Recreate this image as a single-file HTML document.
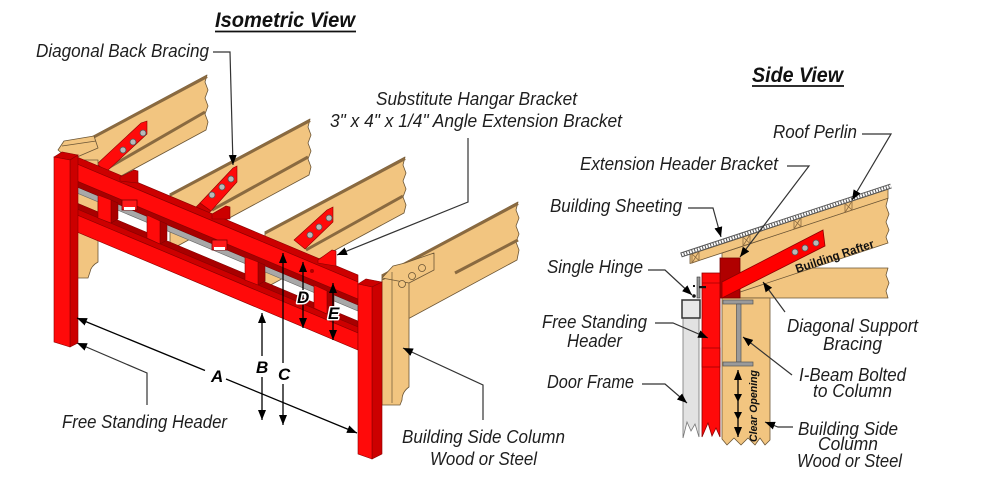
<!DOCTYPE html>
<html>
<head>
<meta charset="utf-8">
<style>
html,body{margin:0;padding:0;background:#fff;}
svg{display:block;}
.t{font-family:"Liberation Sans Narrow","Liberation Sans",sans-serif;font-style:italic;font-size:18px;fill:#1e1e1e;}
.h{font-family:"Liberation Sans",sans-serif;font-style:italic;font-weight:bold;font-size:21px;fill:#111;}
.d{font-family:"Liberation Sans",sans-serif;font-style:italic;font-weight:bold;font-size:17px;fill:#000;}
.dh{paint-order:stroke;stroke:#fff;stroke-width:3px;stroke-linejoin:round;}
.ld{fill:none;stroke:#333;stroke-width:1.2;}
.dm{fill:none;stroke:#000;stroke-width:1.3;}
.w{fill:#f2c580;stroke:#6b5535;stroke-width:0.8;stroke-linejoin:round;}
.wt{fill:none;stroke:#8a6a40;stroke-width:3;}
.r{fill:#ff0a0a;stroke:#8c0000;stroke-width:0.6;}
.rd{fill:#cc0000;stroke:#8c0000;stroke-width:0.6;}
.rx{fill:#a80000;stroke:#7a0000;stroke-width:0.5;}
.bolt{fill:#b8b8b8;stroke:#555;stroke-width:0.8;}
</style>
</head>
<body>
<svg width="990" height="490" viewBox="0 0 990 490" xmlns="http://www.w3.org/2000/svg">
<defs>
<marker id="ah" viewBox="0 0 10 8" refX="10" refY="4" markerWidth="10" markerHeight="8" markerUnits="userSpaceOnUse" orient="auto-start-reverse">
<path d="M0,0 L10,4 L0,8 z" fill="#000"/>
</marker>
</defs>

<!-- ================= ISOMETRIC VIEW ================= -->
<text class="h" x="215" y="27" textLength="140" lengthAdjust="spacingAndGlyphs">Isometric View</text>
<line x1="215" y1="31.5" x2="356" y2="31.5" stroke="#111" stroke-width="1.8"/>

<!-- Rafters -->
<polygon class="w" points="60,154 207,75 205,82 208,90 205,98 208,106 205,114 208,122 206,130 60,209"/>
<line class="wt" x1="60" y1="155" x2="207" y2="76.5"/>
<line class="wt" x1="205" y1="112" x2="108" y2="168"/>
<polygon class="w" points="170,194 310,119 308,127 311,135 308,143 311,151 308,159 311,167 309,175 170,250"/>
<line class="wt" x1="170" y1="195" x2="310" y2="120.5"/>
<line class="wt" x1="308" y1="157" x2="212" y2="210"/>
<polygon class="w" points="265,232 405,157 403,165 406,173 403,181 406,189 403,197 406,205 404,213 265,288"/>
<line class="wt" x1="265" y1="233" x2="405" y2="158.5"/>
<line class="wt" x1="403" y1="196" x2="306" y2="250"/>

<!-- small block top-left -->
<polygon class="w" points="58,150 64,141 94,136 98,148 70,160"/>
<line x1="62" y1="146" x2="96" y2="141" stroke="#6b5535" stroke-width="0.7"/>

<!-- Diagonal braces -->
<polygon class="r" points="97,164 141,123 147,121 147,134 106,172"/>
<polygon class="rd" points="97,164 106,172 101,175 94,167"/>
<circle class="bolt" cx="123" cy="150" r="3"/>
<circle class="bolt" cx="133" cy="142" r="3"/>
<circle class="bolt" cx="143" cy="133" r="3"/>
<polygon class="r" points="200,203 233,168 237,166 237,182 211,211"/>
<polygon class="rd" points="200,203 211,211 206,215 196,207"/>
<circle class="bolt" cx="212" cy="195" r="3"/>
<circle class="bolt" cx="222" cy="187" r="3"/>
<circle class="bolt" cx="231" cy="179" r="3"/>
<polygon class="r" points="294,240 327,210 333,207 333,222 305,249"/>
<circle class="bolt" cx="310" cy="235" r="3"/>
<circle class="bolt" cx="319" cy="227" r="3"/>
<circle class="bolt" cx="329" cy="218" r="3"/>

<!-- left wood column -->
<path class="w" d="M77,160 L98,160 L98,262 Q91,266 90,272 L88,278 L77,278 Z"/>

<!-- Header -->
<polygon fill="#a8a8a8" stroke="#666" stroke-width="0.6" points="77,187 358,305 358,311 77,193"/>
<polygon class="rx" points="77,203 358,321 358,327 77,209"/>
<polygon class="rx" points="77,181 358,299 358,305 77,187"/>
<polygon class="rd" points="77,157 358,275 358,282 77,164"/>
<polygon class="r" points="77,164 358,282 358,299 77,181"/>
<polygon class="rd" points="77,209 358,327 358,333 77,215"/>
<polygon class="r" points="77,215 358,333 358,350 77,232"/>

<!-- studs -->
<polygon class="rx" points="111,200 118,203 118,219 111,223"/>
<polygon class="r" points="98,195 111,200 111,223 98,218"/>
<polygon class="rx" points="160,221 167,224 167,240 160,244"/>
<polygon class="r" points="147,215 160,221 160,244 147,238"/>
<polygon class="rx" points="258,262 265,265 265,281 258,285"/>
<polygon class="r" points="245,257 258,262 258,285 245,280"/>
<polygon class="rx" points="327,291 334,294 334,310 327,314"/>
<polygon class="r" points="314,285 327,291 327,314 314,308"/>

<!-- hanging plates -->
<rect x="122" y="200" width="15" height="10" fill="#ff1a1a" stroke="#700" stroke-width="0.8"/>
<rect x="124" y="207" width="11" height="3" fill="#fff"/>
<rect x="212" y="240" width="15" height="10" fill="#ff1a1a" stroke="#700" stroke-width="0.8"/>
<rect x="214" y="247" width="11" height="3" fill="#fff"/>

<!-- brackets on top -->
<polygon class="rd" points="120,177 134,170 138,171 138,183 120,181"/>
<polygon class="rd" points="212,214 226,206 230,207 230,219 212,219"/>
<polygon class="r" points="318,260 332,250 336,251 336,266 318,263"/>
<circle cx="312" cy="271" r="2" fill="#b00000"/>

<!-- left post -->
<polygon class="rd" points="54,157 62,152 78,155 70,160"/>
<polygon class="rd" points="70,160 78,155 78,343 70,347"/>
<polygon class="r" points="54,157 70,160 70,347 54,342"/>

<!-- Rafter 4 + right column -->
<polygon class="w" points="382,275 518,202 516,210 519,218 516,226 519,234 516,242 519,250 517,260 382,333"/>
<line class="wt" x1="382" y1="276" x2="518" y2="203.5"/>
<line class="wt" x1="518" y1="240" x2="455" y2="273"/>
<path class="w" d="M382,280 L409,268 L409,387 Q402,392 402,400 L400,405 L382,405 Z"/>
<polygon class="w" points="382,278 393,266 405,263 434,253 434,270 409,283"/>
<line x1="392" y1="272" x2="392" y2="403" stroke="#6b5535" stroke-width="0.7"/>
<circle class="w" cx="402" cy="284" r="3.5"/>
<circle class="w" cx="412" cy="276" r="3.5"/>
<circle class="w" cx="422" cy="268" r="3.5"/>

<!-- right post -->
<polygon class="rd" points="358,284 366,279 382,282 372,287"/>
<polygon class="rd" points="372,287 382,282 382,454 372,459"/>
<polygon class="r" points="358,284 372,287 372,459 358,454"/>

<!-- Dimension lines -->
<line class="dm" x1="77" y1="318" x2="205" y2="370.5" marker-start="url(#ah)"/>
<line class="dm" x1="226" y1="379" x2="357" y2="433" marker-end="url(#ah)"/>
<text class="d" x="211" y="382">A</text>
<line class="dm" x1="262" y1="313" x2="262" y2="356" marker-start="url(#ah)"/>
<line class="dm" x1="262" y1="377" x2="262" y2="420" marker-end="url(#ah)"/>
<text class="d" x="256" y="373">B</text>
<line class="dm" x1="283" y1="253" x2="283" y2="363" marker-start="url(#ah)"/>
<line class="dm" x1="283" y1="384" x2="283" y2="425" marker-end="url(#ah)"/>
<text class="d" x="278" y="380">C</text>
<line class="dm" x1="303" y1="262" x2="303" y2="328" marker-start="url(#ah)" marker-end="url(#ah)"/>
<text class="d dh" x="297" y="303">D</text>
<line class="dm" x1="333" y1="283" x2="333" y2="340" marker-start="url(#ah)" marker-end="url(#ah)"/>
<text class="d dh" x="328" y="319">E</text>

<!-- Leaders iso -->
<polyline class="ld" points="213,52 230,52 233,165" marker-end="url(#ah)"/>
<polyline class="ld" points="468,138 468,202 337,255" marker-end="url(#ah)"/>
<polyline class="ld" points="147,405 147,373 77,343" marker-end="url(#ah)"/>
<polyline class="ld" points="483,420 483,385 403,348" marker-end="url(#ah)"/>

<!-- Labels iso -->
<text class="t" x="36" y="57" textLength="173" lengthAdjust="spacingAndGlyphs">Diagonal Back Bracing</text>
<text class="t" x="376" y="105" textLength="201" lengthAdjust="spacingAndGlyphs">Substitute Hangar Bracket</text>
<text class="t" x="330" y="127" textLength="292" lengthAdjust="spacingAndGlyphs">3" x 4" x 1/4" Angle Extension Bracket</text>
<text class="t" x="62" y="428" textLength="165" lengthAdjust="spacingAndGlyphs">Free Standing Header</text>
<text class="t" x="402" y="443" textLength="163" lengthAdjust="spacingAndGlyphs">Building Side Column</text>
<text class="t" x="430" y="465" textLength="107" lengthAdjust="spacingAndGlyphs">Wood or Steel</text>

<!-- ================= SIDE VIEW ================= -->
<text class="h" x="752" y="82" textLength="91" lengthAdjust="spacingAndGlyphs">Side View</text>
<line x1="752" y1="86" x2="844" y2="86" stroke="#111" stroke-width="1.8"/>

<!-- horizontal board -->
<polygon class="w" points="740,268 888,268 886,275 889,283 886,291 888,298 740,298"/>
<!-- rafter -->
<polygon class="w" points="722,253 888,198 886,206 889,214 886,222 889,230 886,237 888,243 722,298"/>
<!-- purlin layer -->
<polygon class="w" points="690,254.5 888,189.2 888,198.2 690,263.5"/>
<!-- purlins -->
<g fill="none" stroke="#8a6a40" stroke-width="0.8">
<polygon points="692,254 699,251.5 699,260.5 692,263"/>
<path d="M692,254 L699,260.5 M699,251.5 L692,263"/>
<polygon points="743,237 750,234.5 750,243.5 743,246"/>
<path d="M743,237 L750,243.5 M750,234.5 L743,246"/>
<polygon points="794,220 801,217.5 801,226.5 794,229"/>
<path d="M794,220 L801,226.5 M801,217.5 L794,229"/>
<polygon points="845,203.5 852,201 852,210 845,212.5"/>
<path d="M845,203.5 L852,210 M852,201 L845,212.5"/>
</g>
<!-- sheeting -->
<line x1="681" y1="255" x2="891" y2="186" stroke="#555" stroke-width="5"/>
<line x1="681" y1="255" x2="891" y2="186" stroke="#fff" stroke-width="3"/>
<line x1="681" y1="255" x2="891" y2="186" stroke="#555" stroke-width="3" stroke-dasharray="1 1.8"/>

<!-- column -->
<polygon class="w" points="722,298 770,298 770,440 765,445 760,438 755,445 748,438 741,445 734,438 727,445 722,439"/>
<!-- I-beam -->
<g fill="#9a9a9a" stroke="#555" stroke-width="0.7">
<rect x="723" y="300" width="30" height="4"/>
<rect x="736.5" y="304" width="4.5" height="58"/>
<rect x="723" y="362" width="30" height="4"/>
</g>
<!-- dark red block -->
<rect x="720" y="258" width="20" height="40" fill="#b00000" stroke="#700" stroke-width="0.8"/>
<!-- red brace -->
<polygon fill="#ff0000" stroke="#8c0000" stroke-width="0.8" points="722,282 823,230 825,246 722,298"/>
<circle class="bolt" cx="795" cy="252" r="3"/>
<circle class="bolt" cx="805" cy="248" r="3"/>
<circle class="bolt" cx="816" cy="243" r="3"/>
<!-- red header -->
<polygon fill="#ff0a0a" stroke="#8c0000" stroke-width="0.8" points="702,273 720,273 720,437 716,428 712,436 708,423 702,437"/>
<line x1="702" y1="283" x2="720" y2="283" stroke="#a00000" stroke-width="0.8"/>
<rect x="702" y="348" width="18" height="19" fill="none" stroke="#a00000" stroke-width="0.8"/>
<!-- door frame -->
<polygon fill="#e2e2e2" stroke="#777" stroke-width="0.8" points="683,318 699,318 699,437 695,424 691,431 687,422 683,438"/>
<rect x="682" y="300" width="18" height="18" fill="#e8e8e8" stroke="#333" stroke-width="1.5"/>
<!-- hinge -->
<rect x="697" y="277" width="3" height="21" fill="#999" stroke="#333" stroke-width="0.6"/>
<rect x="699" y="286" width="7" height="2.2" fill="#111"/>
<rect x="693" y="285" width="2" height="2" fill="#111"/>
<circle cx="694" cy="296" r="1.8" fill="#111"/>

<text transform="translate(797,273) rotate(-18.4)" font-family="Liberation Sans, sans-serif" font-weight="bold" font-size="12" fill="#111" textLength="82" lengthAdjust="spacingAndGlyphs">Building Rafter</text>

<!-- clear opening -->
<line class="dm" x1="738" y1="370" x2="738" y2="437" marker-start="url(#ah)" marker-end="url(#ah)"/>
<path d="M734,394 L742,394 L738,402 z" fill="#000"/>
<path d="M734,412 L742,412 L738,420 z" fill="#000"/>
<text transform="translate(757,406) rotate(-90)" text-anchor="middle" font-family="Liberation Sans, sans-serif" font-weight="bold" font-style="italic" font-size="11" fill="#111" textLength="72" lengthAdjust="spacingAndGlyphs">Clear Opening</text>

<!-- Leaders side -->
<polyline class="ld" points="862,134 891,134 852,200" marker-end="url(#ah)"/>
<polyline class="ld" points="787,166 809,166 740,257" marker-end="url(#ah)"/>
<polyline class="ld" points="688,208 713,208 721,237" marker-end="url(#ah)"/>
<polyline class="ld" points="648,270 665,270 692,295" marker-end="url(#ah)"/>
<polyline class="ld" points="655,323 673,323 708,338" marker-end="url(#ah)"/>
<polyline class="ld" points="642,384 665,384 687,403" marker-end="url(#ah)"/>
<polyline class="ld" points="785,312 763,282" marker-end="url(#ah)"/>
<polyline class="ld" points="792,375 743,337" marker-end="url(#ah)"/>
<polyline class="ld" points="793,427 778,427 765,422" marker-end="url(#ah)"/>

<!-- Labels side -->
<text class="t" x="773" y="138" textLength="84" lengthAdjust="spacingAndGlyphs">Roof Perlin</text>
<text class="t" x="580" y="170" textLength="198" lengthAdjust="spacingAndGlyphs">Extension Header Bracket</text>
<text class="t" x="550" y="212" textLength="132" lengthAdjust="spacingAndGlyphs">Building Sheeting</text>
<text class="t" x="547" y="273" textLength="96" lengthAdjust="spacingAndGlyphs">Single Hinge</text>
<text class="t" x="542" y="328" textLength="105" lengthAdjust="spacingAndGlyphs">Free Standing</text>
<text class="t" x="567" y="347" textLength="55" lengthAdjust="spacingAndGlyphs">Header</text>
<text class="t" x="547" y="388" textLength="87" lengthAdjust="spacingAndGlyphs">Door Frame</text>
<text class="t" x="787" y="332" textLength="131" lengthAdjust="spacingAndGlyphs">Diagonal Support</text>
<text class="t" x="823" y="350" textLength="59" lengthAdjust="spacingAndGlyphs">Bracing</text>
<text class="t" x="799" y="381" textLength="107" lengthAdjust="spacingAndGlyphs">I-Beam Bolted</text>
<text class="t" x="813" y="397" textLength="79" lengthAdjust="spacingAndGlyphs">to Column</text>
<text class="t" x="798" y="435" textLength="100" lengthAdjust="spacingAndGlyphs">Building Side</text>
<text class="t" x="818" y="450" textLength="60" lengthAdjust="spacingAndGlyphs">Column</text>
<text class="t" x="797" y="467" textLength="105" lengthAdjust="spacingAndGlyphs">Wood or Steel</text>
</svg>
</body>
</html>
